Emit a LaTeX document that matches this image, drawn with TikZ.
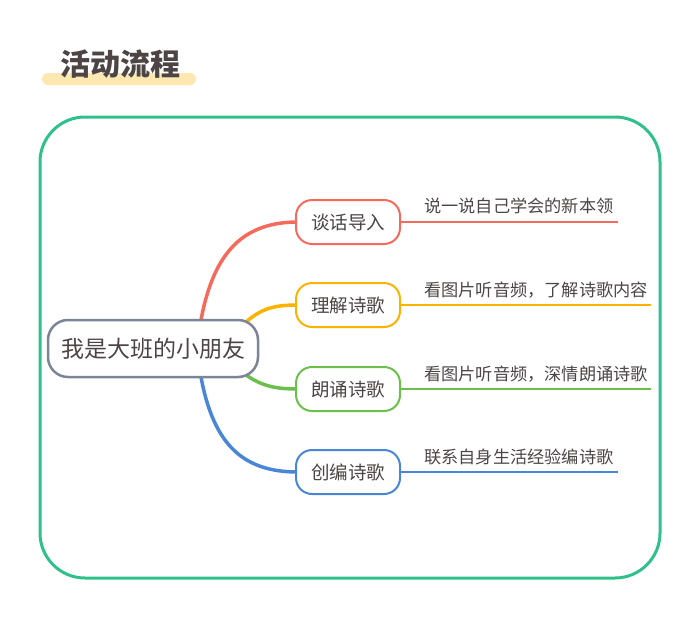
\documentclass[tikz,border=0pt]{standalone}
\usepackage{fontspec}
\newfontfamily\cjk{Noto Sans CJK SC}
\definecolor{txt}{HTML}{4D4545}
\definecolor{frame}{HTML}{2FC08C}
\definecolor{hl}{HTML}{FDE8B2}
\definecolor{cgray}{HTML}{7C8597}
\definecolor{cred}{HTML}{F46B5D}
\definecolor{corange}{HTML}{FBB300}
\definecolor{cgreen}{HTML}{6BC04C}
\definecolor{cblue}{HTML}{4A86D6}
\tikzset{
  branch/.style={draw=#1, line width=2pt, rounded corners=16pt, minimum width=104pt, minimum height=44pt, inner sep=0pt, font=\cjk\fontsize{18.5}{20}\selectfont, text=txt, fill=white},
  leaf/.style={anchor=base west, inner sep=0pt, font=\cjk\fontsize{17.2}{19}\selectfont, text=txt},
  conn/.style={draw=#1, line width=3.5pt, line cap=round},
  lead/.style={draw=#1, line width=2pt}
}
\begin{document}
\begin{tikzpicture}[x=1pt,y=-1pt]
\useasboundingbox (0,0) rectangle (700,642);
% title
\fill[hl, rounded corners=6pt] (42,73) rectangle (196,85);
\node[text=txt, font=\cjk\bfseries\fontsize{30}{33}\selectfont, inner sep=0pt] (title) at (120,64) {活动流程};
% frame
\draw[frame, line width=3pt, rounded corners=45pt] (40,117) rectangle (660,578) ;
% coordinates
\coordinate (s1) at (201,320);
\coordinate (s2) at (246,322);
\coordinate (s3) at (246,375);
\coordinate (s4) at (201,377);
% connectors
\draw[conn=cred] (s1) .. controls (214,250) and (245,222) .. (298,222);
\draw[conn=corange] (s2) .. controls (262,308) and (275,305) .. (298,305);
\draw[conn=cgreen] (s3) .. controls (262,386) and (275,389) .. (298,389);
\draw[conn=cblue] (s4) .. controls (214,447) and (245,472) .. (298,472);
% central node
\node[draw=cgray, line width=2.5pt, rounded corners=20pt, minimum width=210pt, minimum height=57pt, fill=white, text=txt, font=\cjk\fontsize{23}{25}\selectfont, inner sep=0pt] (c) at (153,348.5) {我是大班的小朋友};
% branch nodes
\node[branch=cred] (b1) at (348,222) {谈话导入};
\node[branch=corange] (b2) at (348,305) {理解诗歌};
\node[branch=cgreen] (b3) at (348,389) {朗诵诗歌};
\node[branch=cblue] (b4) at (348,472) {创编诗歌};
% leader ends
\coordinate (e1) at (618,222);
\coordinate (e2) at (651,305);
\coordinate (e3) at (651,389);
\coordinate (e4) at (618,472);
\draw[lead=cred] (b1.east) -- (e1);
\draw[lead=corange] (b2.east) -- (e2);
\draw[lead=cgreen] (b3.east) -- (e3);
\draw[lead=cblue] (b4.east) -- (e4);
% leaf texts
\node[leaf] (t1) at (424,212) {说一说自己学会的新本领};
\node[leaf] (t2) at (424,296) {看图片听音频，了解诗歌内容};
\node[leaf] (t3) at (424,380) {看图片听音频，深情朗诵诗歌};
\node[leaf] (t4) at (424,463) {联系自身生活经验编诗歌};
\end{tikzpicture}
\end{document}
